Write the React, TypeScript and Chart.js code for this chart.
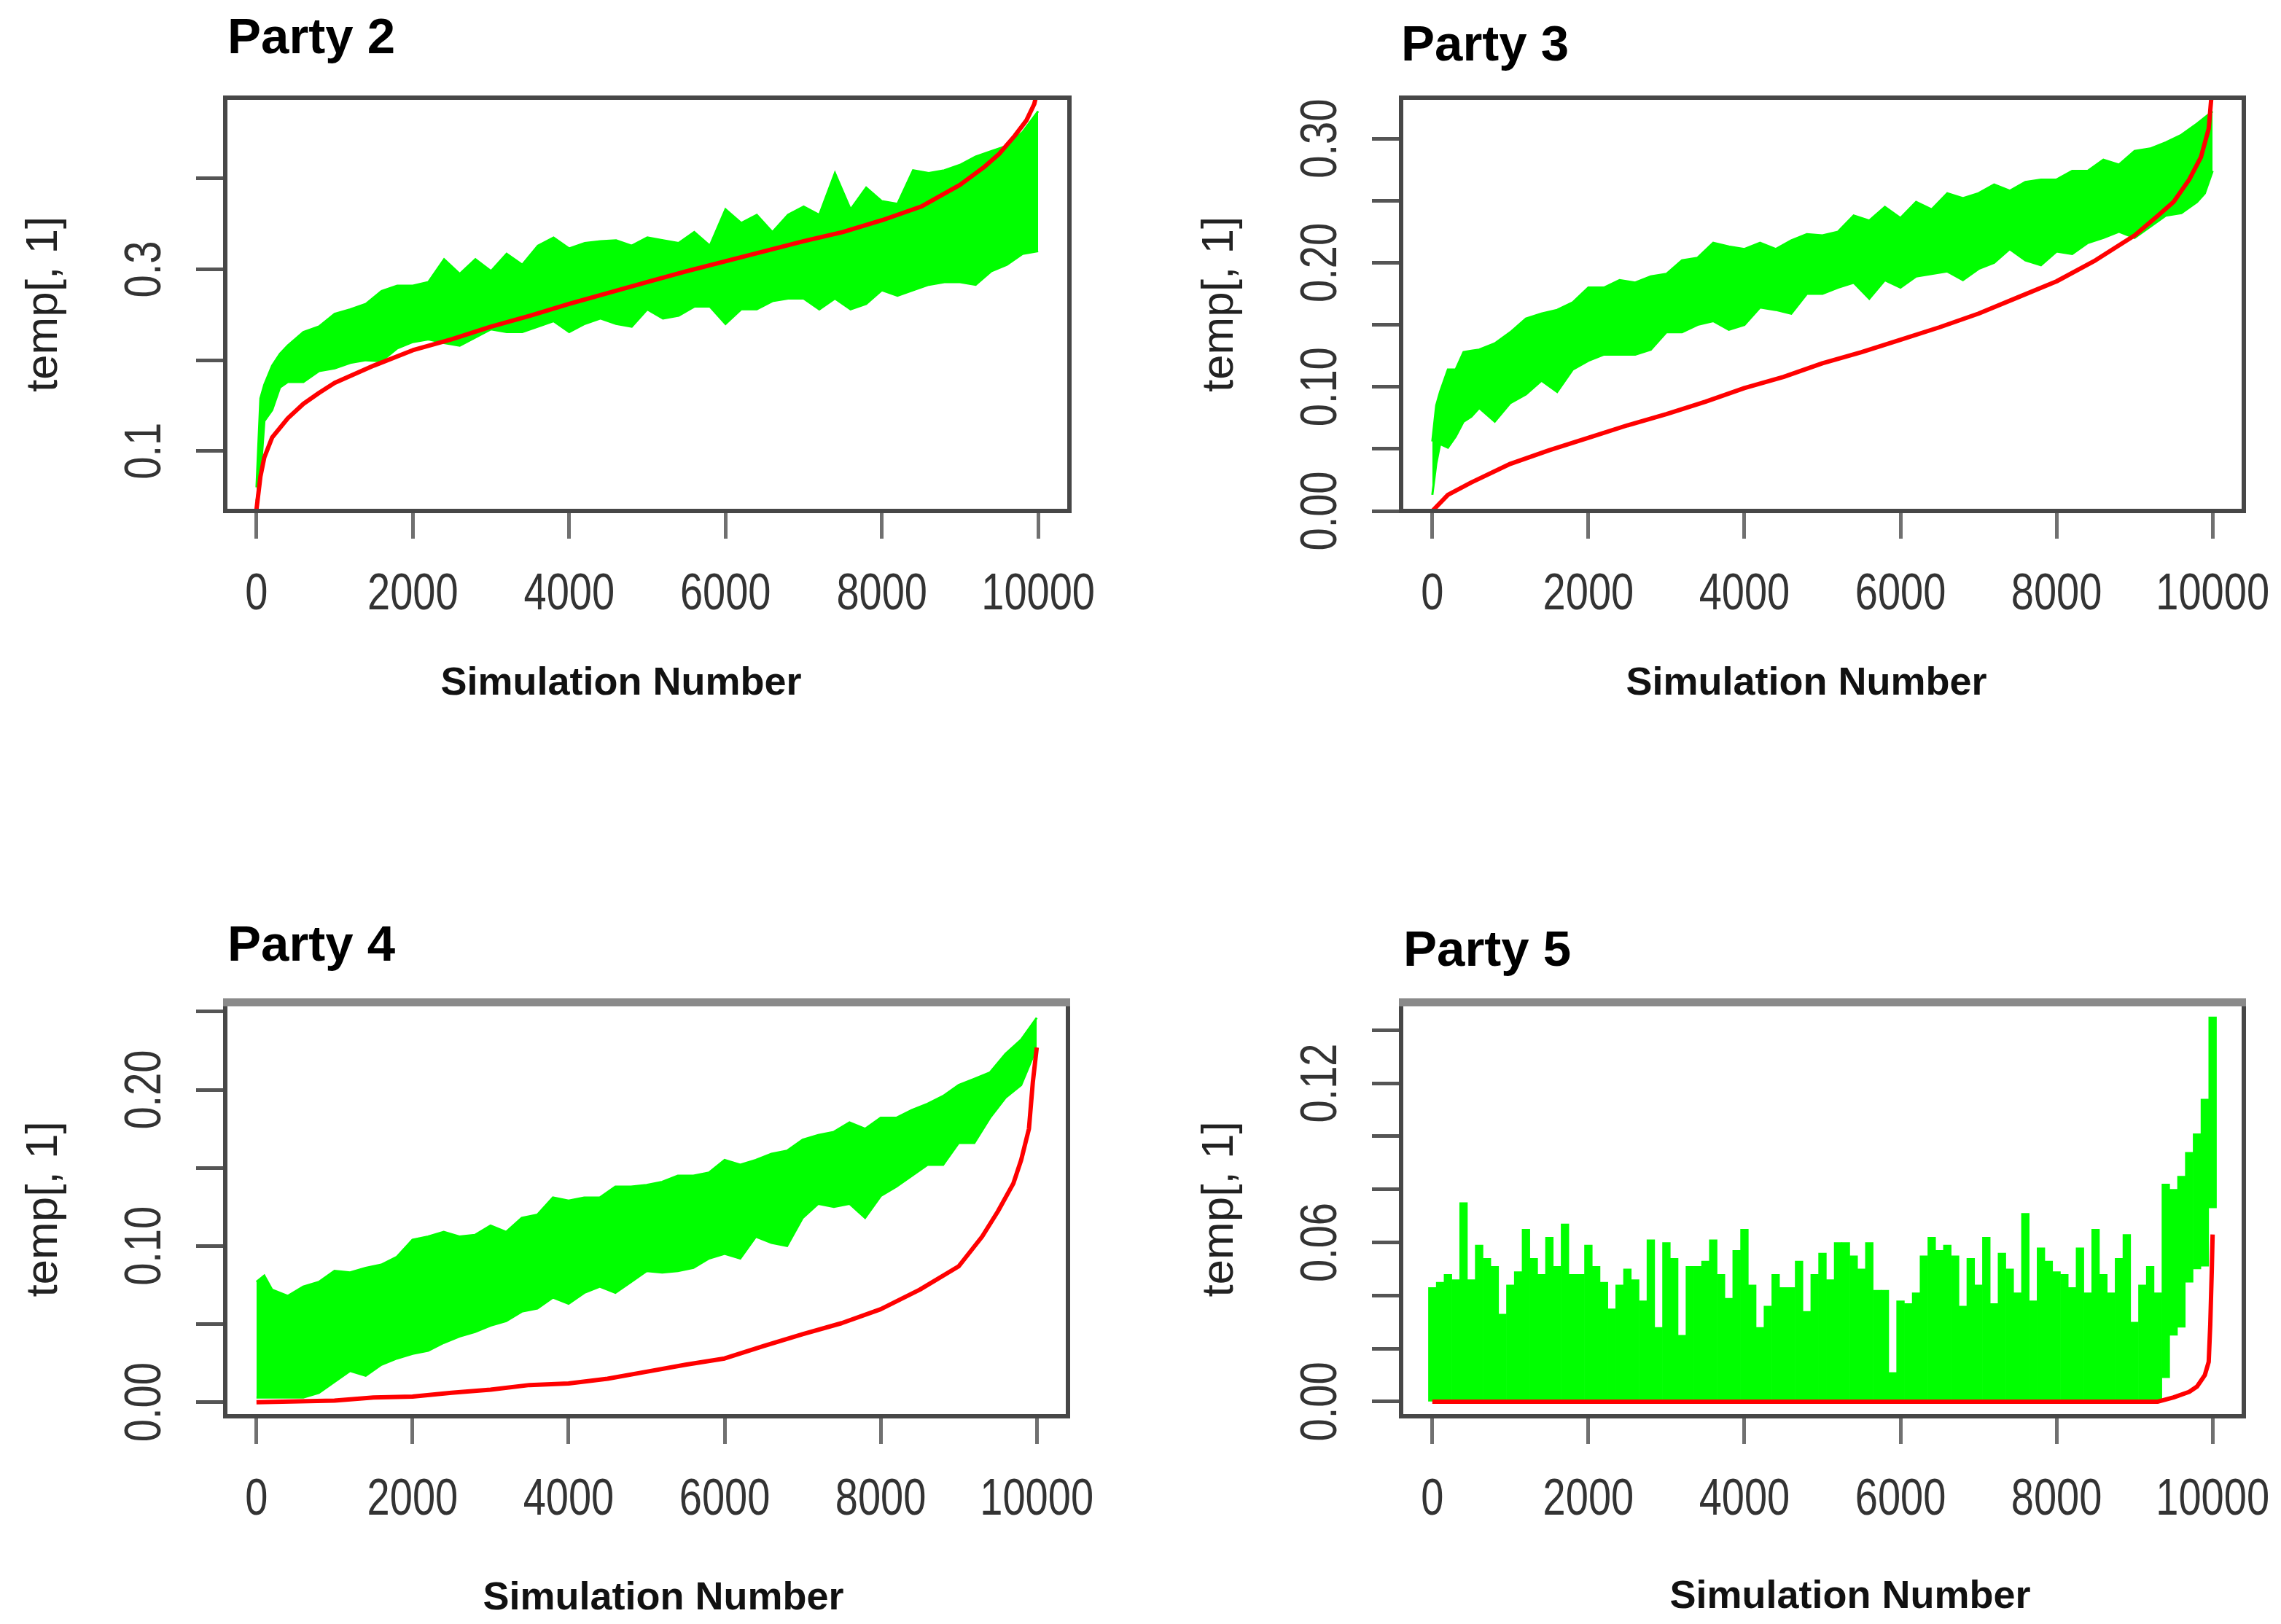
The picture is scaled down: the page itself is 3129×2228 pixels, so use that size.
import React, { useEffect, useRef } from 'react';
import { Chart, registerables } from 'chart.js';

Chart.register(...registerables);

// ---------------- data ----------------
const xTickValues = [0, 2000, 4000, 6000, 8000, 10000];
const xTickLabels = ['0', '2000', '4000', '6000', '8000', '10000'];
const panelTitles = ['Party 2', 'Party 3', 'Party 4', 'Party 5'];
const xAxisTitle = 'Simulation Number';
const yAxisTitle = 'temp[, 1]';

// Party 2
const greenX2 = [0, 50, 100, 200, 300, 400, 600, 800, 1000, 1200, 1400, 1600, 1800, 2000, 2200, 2400, 2600, 2800, 3000, 3200, 3400, 3600, 3800, 4000, 4200, 4400, 4600, 4800, 5000, 5200, 5400, 5600, 5800, 6000, 6200, 6400, 6600, 6800, 7000, 7200, 7400, 7600, 7800, 8000, 8200, 8400, 8600, 8800, 9000, 9200, 9400, 9600, 9800, 10000];
const greenHi2 = [0.06, 0.158, 0.173, 0.194, 0.207, 0.216, 0.231, 0.237, 0.251, 0.256, 0.262, 0.276, 0.282, 0.282, 0.286, 0.311, 0.295, 0.311, 0.298, 0.317, 0.305, 0.326, 0.335, 0.323, 0.329, 0.331, 0.332, 0.326, 0.335, 0.332, 0.329, 0.341, 0.326, 0.366, 0.351, 0.36, 0.341, 0.36, 0.369, 0.36, 0.406, 0.366, 0.39, 0.375, 0.372, 0.409, 0.406, 0.409, 0.415, 0.424, 0.43, 0.436, 0.451, 0.474];
const greenLo2 = [0.045, 0.072, 0.133, 0.145, 0.17, 0.176, 0.176, 0.188, 0.191, 0.197, 0.2, 0.199, 0.213, 0.22, 0.223, 0.219, 0.216, 0.225, 0.234, 0.231, 0.231, 0.237, 0.243, 0.231, 0.24, 0.246, 0.24, 0.237, 0.256, 0.246, 0.249, 0.259, 0.259, 0.24, 0.256, 0.256, 0.265, 0.268, 0.268, 0.256, 0.268, 0.256, 0.262, 0.277, 0.271, 0.277, 0.283, 0.286, 0.286, 0.283, 0.298, 0.305, 0.317, 0.32];
const redX2 = [0, 50, 100, 200, 400, 600, 800, 1000, 1500, 2000, 2500, 3000, 3500, 4000, 4500, 5000, 5500, 6000, 6500, 7000, 7500, 8000, 8500, 9000, 9300, 9500, 9700, 9850, 9950, 10000];
const redY2 = [0.036, 0.072, 0.093, 0.115, 0.136, 0.152, 0.164, 0.175, 0.194, 0.211, 0.223, 0.237, 0.249, 0.262, 0.274, 0.286, 0.298, 0.309, 0.32, 0.331, 0.341, 0.354, 0.369, 0.393, 0.412, 0.427, 0.447, 0.464, 0.482, 0.5];
const yTicks2 = [0.1, 0.2, 0.3, 0.4];
const yTickLabels2 = ['0.1', '', '0.3', ''];

// Party 3
const greenX3 = [0, 50, 100, 200, 300, 400, 500, 600, 800, 1000, 1200, 1400, 1600, 1800, 2000, 2200, 2400, 2600, 2800, 3000, 3200, 3400, 3600, 3800, 4000, 4200, 4400, 4600, 4800, 5000, 5200, 5400, 5600, 5800, 6000, 6200, 6400, 6600, 6800, 7000, 7200, 7400, 7600, 7800, 8000, 8200, 8400, 8600, 8800, 9000, 9200, 9400, 9600, 9800, 9900, 10000];
const greenHi3 = [0.056, 0.085, 0.096, 0.114, 0.114, 0.128, 0.129, 0.13, 0.135, 0.144, 0.155, 0.159, 0.162, 0.168, 0.18, 0.18, 0.186, 0.184, 0.189, 0.191, 0.202, 0.204, 0.216, 0.213, 0.211, 0.216, 0.211, 0.218, 0.223, 0.222, 0.225, 0.238, 0.234, 0.245, 0.236, 0.249, 0.243, 0.256, 0.252, 0.256, 0.263, 0.258, 0.265, 0.267, 0.267, 0.274, 0.274, 0.283, 0.279, 0.29, 0.292, 0.297, 0.303, 0.312, 0.317, 0.322];
const greenLo3 = [0.013, 0.038, 0.054, 0.051, 0.06, 0.072, 0.076, 0.083, 0.072, 0.087, 0.094, 0.105, 0.096, 0.114, 0.121, 0.126, 0.126, 0.126, 0.13, 0.144, 0.144, 0.15, 0.153, 0.146, 0.15, 0.164, 0.162, 0.159, 0.175, 0.175, 0.18, 0.184, 0.171, 0.186, 0.18, 0.189, 0.191, 0.193, 0.186, 0.195, 0.2, 0.211, 0.202, 0.198, 0.209, 0.207, 0.216, 0.22, 0.225, 0.22, 0.229, 0.238, 0.24, 0.249, 0.256, 0.274];
const redX3 = [0, 200, 500, 1000, 1500, 2000, 2500, 3000, 3500, 4000, 4500, 5000, 5500, 6000, 6500, 7000, 7500, 8000, 8500, 9000, 9300, 9500, 9700, 9850, 9950, 10000];
const redY3 = [0, 0.013, 0.023, 0.038, 0.049, 0.059, 0.069, 0.078, 0.088, 0.099, 0.108, 0.119, 0.128, 0.138, 0.148, 0.159, 0.172, 0.185, 0.202, 0.222, 0.238, 0.249, 0.267, 0.285, 0.308, 0.345];
const yTicks3 = [0, 0.05, 0.1, 0.15, 0.2, 0.25, 0.3];
const yTickLabels3 = ['0.00', '', '0.10', '', '0.20', '', '0.30'];

// Party 4
const greenX4 = [0, 100, 200, 400, 600, 800, 1000, 1200, 1400, 1600, 1800, 2000, 2200, 2400, 2600, 2800, 3000, 3200, 3400, 3600, 3800, 4000, 4200, 4400, 4600, 4800, 5000, 5200, 5400, 5600, 5800, 6000, 6200, 6400, 6600, 6800, 7000, 7200, 7400, 7600, 7800, 8000, 8200, 8400, 8600, 8800, 9000, 9200, 9400, 9600, 9800, 10000];
const greenHi4 = [0.077, 0.081, 0.072, 0.068, 0.074, 0.077, 0.084, 0.083, 0.086, 0.088, 0.093, 0.104, 0.106, 0.109, 0.106, 0.107, 0.113, 0.109, 0.118, 0.12, 0.131, 0.129, 0.131, 0.131, 0.138, 0.138, 0.139, 0.141, 0.145, 0.145, 0.147, 0.155, 0.152, 0.155, 0.159, 0.161, 0.168, 0.171, 0.173, 0.179, 0.175, 0.182, 0.182, 0.187, 0.191, 0.196, 0.203, 0.207, 0.211, 0.223, 0.232, 0.246];
const greenLo4 = [0.003, 0.003, 0.003, 0.003, 0.003, 0.006, 0.013, 0.02, 0.017, 0.024, 0.028, 0.031, 0.033, 0.038, 0.042, 0.045, 0.049, 0.052, 0.058, 0.06, 0.067, 0.063, 0.07, 0.074, 0.07, 0.077, 0.084, 0.083, 0.084, 0.086, 0.092, 0.095, 0.092, 0.106, 0.102, 0.1, 0.118, 0.127, 0.125, 0.127, 0.118, 0.132, 0.138, 0.145, 0.152, 0.152, 0.166, 0.166, 0.182, 0.195, 0.203, 0.227];
const redX4 = [0, 1000, 1500, 2000, 2500, 3000, 3500, 4000, 4500, 5000, 5500, 6000, 6500, 7000, 7500, 8000, 8500, 9000, 9300, 9500, 9700, 9800, 9900, 9950, 10000];
const redY4 = [0, 0.001, 0.003, 0.0036, 0.006, 0.008, 0.011, 0.012, 0.015, 0.0195, 0.024, 0.028, 0.036, 0.0435, 0.0506, 0.0595, 0.072, 0.087, 0.106, 0.122, 0.14, 0.155, 0.175, 0.205, 0.227];
const yTicks4 = [0, 0.05, 0.1, 0.15, 0.2, 0.25];
const yTickLabels4 = ['0.00', '', '0.10', '', '0.20', ''];

// Party 5
const greenX5 = [
  0, 100, 200, 300, 400, 500, 600, 700, 800, 900,
  1000, 1100, 1200, 1300, 1400, 1500, 1600, 1700, 1800, 1900,
  2000, 2100, 2200, 2300, 2400, 2500, 2600, 2700, 2800, 2900,
  3000, 3100, 3200, 3300, 3400, 3500, 3600, 3700, 3800, 3900,
  4000, 4100, 4200, 4300, 4400, 4500, 4600, 4700, 4800, 4900,
  5000, 5100, 5200, 5300, 5400, 5500, 5600, 5700, 5800, 5900,
  6000, 6100, 6200, 6300, 6400, 6500, 6600, 6700, 6800, 6900,
  7000, 7100, 7200, 7300, 7400, 7500, 7600, 7700, 7800, 7900,
  8000, 8100, 8200, 8300, 8400, 8500, 8600, 8700, 8800, 8900,
  9000, 9100, 9200, 9300, 9400, 9500, 9600, 9700, 9800, 9900,
  10000,
];
const greenHi5 = [
  0.043, 0.045, 0.048, 0.046, 0.075, 0.046, 0.059, 0.054, 0.051, 0.033,
  0.044, 0.049, 0.065, 0.054, 0.048, 0.062, 0.051, 0.067, 0.048, 0.048,
  0.059, 0.051, 0.045, 0.035, 0.044, 0.05, 0.046, 0.038, 0.061, 0.028,
  0.06, 0.054, 0.025, 0.051, 0.051, 0.053, 0.061, 0.048, 0.039, 0.057,
  0.065, 0.044, 0.028, 0.036, 0.048, 0.043, 0.043, 0.053, 0.034, 0.048,
  0.056, 0.046, 0.06, 0.06, 0.055, 0.05, 0.06, 0.042, 0.042, 0.011,
  0.038, 0.037, 0.041, 0.055, 0.062, 0.057, 0.059, 0.055, 0.036, 0.054,
  0.044, 0.062, 0.037, 0.056, 0.05, 0.041, 0.071, 0.038, 0.058, 0.053,
  0.049, 0.048, 0.043, 0.058, 0.041, 0.065, 0.048, 0.041, 0.054, 0.063,
  0.03, 0.044, 0.051, 0.041, 0.082, 0.08, 0.085, 0.094, 0.101, 0.114,
  0.145,
];
const greenLo5 = [
  0, 0, 0, 0, 0, 0, 0, 0, 0, 0,
  0, 0, 0, 0, 0, 0, 0, 0, 0, 0,
  0, 0, 0, 0, 0, 0, 0, 0, 0, 0,
  0, 0, 0, 0, 0, 0, 0, 0, 0, 0,
  0, 0, 0, 0, 0, 0, 0, 0, 0, 0,
  0, 0, 0, 0, 0, 0, 0, 0, 0, 0,
  0, 0, 0, 0, 0, 0, 0, 0, 0, 0,
  0, 0, 0, 0, 0, 0, 0, 0, 0, 0,
  0, 0, 0, 0, 0, 0, 0, 0, 0, 0,
  0, 0, 0, 0, 0.009, 0.025, 0.028, 0.045, 0.05, 0.051,
  0.073,
];
const redX5 = [0, 9300, 9500, 9700, 9800, 9850, 9900, 9950, 9970, 9990, 10000];
const redY5 = [0, 0, 0.0016, 0.0037, 0.0057, 0.0078, 0.01, 0.015, 0.029, 0.05, 0.063];
const yTicks5 = [0, 0.02, 0.04, 0.06, 0.08, 0.1, 0.12, 0.14];
const yTickLabels5 = ['0.00', '', '', '0.06', '', '', '0.12', ''];

// ---------------- styles / layout ----------------
const GREEN = 'rgb(0,255,0)';
const RED = 'rgb(255,0,0)';
const MAIN_FONT = "'Liberation Sans', Arial, sans-serif";
const TICK_SIZE = 70;
const TICK_SQUEEZE = 0.8; // narrow tick-label face of the original

type PanelCfg = {
  key: string;
  title: string;
  left: number; top: number; w: number; h: number;
  area: { l: number; t: number; r: number; b: number };
  yMin: number; yMax: number;
  yTicks: number[]; yLabels: string[];
  titleX: number; titleBase: number;
  xTitleDx: number; xTitleBase: number;
  topBorder: boolean;
  kind: 'band' | 'bars';
  gx: number[]; gHi: number[]; gLo: number[];
  rx: number[]; ry: number[];
};

const panels: PanelCfg[] = [
  {
    key: 'p2', title: panelTitles[0], left: 0, top: 0, w: 1560, h: 1110,
    area: { l: 309, t: 134, r: 1467, b: 701 }, yMin: 0.034, yMax: 0.489,
    yTicks: yTicks2, yLabels: yTickLabels2, titleX: 312, titleBase: 73,
    xTitleDx: -36, xTitleBase: 953, topBorder: false, kind: 'band',
    gx: greenX2, gHi: greenHi2, gLo: greenLo2, rx: redX2, ry: redY2,
  },
  {
    key: 'p3', title: panelTitles[1], left: 1560, top: 0, w: 1569, h: 1110,
    area: { l: 362, t: 134, r: 1518, b: 701 }, yMin: 0, yMax: 0.333,
    yTicks: yTicks3, yLabels: yTickLabels3, titleX: 362, titleBase: 83,
    xTitleDx: -22, xTitleBase: 953, topBorder: false, kind: 'band',
    gx: greenX3, gHi: greenHi3, gLo: greenLo3, rx: redX3, ry: redY3,
  },
  {
    key: 'p4', title: panelTitles[2], left: 0, top: 1110, w: 1560, h: 1118,
    area: { l: 309, t: 265, r: 1465, b: 833 }, yMin: -0.009, yMax: 0.256,
    yTicks: yTicks4, yLabels: yTickLabels4, titleX: 312, titleBase: 208,
    xTitleDx: 23, xTitleBase: 1098, topBorder: true, kind: 'band',
    gx: greenX4, gHi: greenHi4, gLo: greenLo4, rx: redX4, ry: redY4,
  },
  {
    key: 'p5', title: panelTitles[3], left: 1560, top: 1110, w: 1569, h: 1118,
    area: { l: 362, t: 265, r: 1518, b: 833 }, yMin: -0.0055, yMax: 0.1505,
    yTicks: yTicks5, yLabels: yTickLabels5, titleX: 365, titleBase: 215,
    xTitleDx: 38, xTitleBase: 1096, topBorder: true, kind: 'bars',
    gx: greenX5, gHi: greenHi5, gLo: greenLo5, rx: redX5, ry: redY5,
  },
];

function pts(xs: number[], ys: number[]) {
  return xs.map((x, i) => ({ x, y: ys[i] }));
}

function decorPlugin(p: PanelCfg) {
  return {
    id: 'decor_' + p.key,
    afterDraw(chart: any) {
      const ctx: CanvasRenderingContext2D = chart.ctx;
      const a = chart.chartArea;
      ctx.save();
      // box
      ctx.strokeStyle = '#474747';
      ctx.lineWidth = 6;
      ctx.strokeRect(a.left, a.top, a.right - a.left, a.bottom - a.top);
      if (p.topBorder) {
        ctx.strokeStyle = '#8a8a8a';
        ctx.lineWidth = 11;
        ctx.beginPath();
        ctx.moveTo(a.left - 3, a.top);
        ctx.lineTo(a.right + 3, a.top);
        ctx.stroke();
      }
      // panel title
      ctx.fillStyle = '#000';
      ctx.font = `bold 69px ${MAIN_FONT}`;
      ctx.textAlign = 'left';
      ctx.textBaseline = 'alphabetic';
      ctx.fillText(p.title, p.titleX, p.titleBase);
      // x axis title
      ctx.fillStyle = '#111';
      ctx.font = `bold 54px ${MAIN_FONT}`;
      ctx.textAlign = 'center';
      ctx.fillText(xAxisTitle, (a.left + a.right) / 2 + p.xTitleDx, p.xTitleBase);
      // y axis title
      ctx.save();
      ctx.translate(a.left - 248, (a.top + a.bottom) / 2);
      ctx.rotate(-Math.PI / 2);
      ctx.font = `62px ${MAIN_FONT}`;
      ctx.fillStyle = '#222';
      ctx.textAlign = 'center';
      ctx.textBaseline = 'middle';
      ctx.fillText(yAxisTitle, 0, 0);
      ctx.restore();
      // x tick labels (narrow face)
      const xs = chart.scales.x;
      xTickValues.forEach((v, i) => {
        const px = xs.getPixelForValue(v);
        ctx.save();
        ctx.translate(px, a.bottom + 135);
        ctx.scale(TICK_SQUEEZE, 1);
        ctx.font = `${TICK_SIZE}px ${MAIN_FONT}`;
        ctx.fillStyle = '#333';
        ctx.textAlign = 'center';
        ctx.textBaseline = 'alphabetic';
        ctx.fillText(xTickLabels[i], 0, 0);
        ctx.restore();
      });
      // y tick labels (rotated, R style)
      const ys = chart.scales.y;
      p.yTicks.forEach((v, i) => {
        const lab = p.yLabels[i];
        if (!lab) return;
        const py = ys.getPixelForValue(v);
        ctx.save();
        ctx.translate(a.left - 108, py);
        ctx.rotate(-Math.PI / 2);
        ctx.scale(TICK_SQUEEZE, 1);
        ctx.font = `${TICK_SIZE}px ${MAIN_FONT}`;
        ctx.fillStyle = '#333';
        ctx.textAlign = 'center';
        ctx.textBaseline = 'middle';
        ctx.fillText(lab, 0, 0);
        ctx.restore();
      });
      ctx.restore();
    },
  };
}

function buildConfig(p: PanelCfg): any {
  const redSet: any = {
    type: 'line',
    label: 'red',
    data: pts(p.rx, p.ry),
    borderColor: RED,
    borderWidth: 6,
    pointRadius: 0,
    tension: 0,
    fill: false,
    borderJoinStyle: 'round',
    order: 0,
  };
  let datasets: any[];
  if (p.kind === 'band') {
    datasets = [
      redSet,
      {
        type: 'line', label: 'green hi', data: pts(p.gx, p.gHi), borderColor: GREEN, borderWidth: 3,
        backgroundColor: GREEN, pointRadius: 0, tension: 0, fill: '+1', order: 1,
      },
      {
        type: 'line', label: 'green lo', data: pts(p.gx, p.gLo), borderColor: GREEN, borderWidth: 3,
        pointRadius: 0, tension: 0, fill: false, order: 2,
      },
    ];
  } else {
    datasets = [
      redSet,
      {
        type: 'bar', label: 'green', data: p.gx.map((x, i) => ({ x, y: [p.gLo[i], p.gHi[i]] })),
        backgroundColor: GREEN, borderWidth: 0, barPercentage: 1, categoryPercentage: 1, grouped: false, order: 1,
      },
    ];
  }
  const H = p.h;
  return {
    type: p.kind === 'band' ? 'line' : 'bar',
    data: { datasets },
    options: {
      animation: false,
      responsive: false,
      maintainAspectRatio: false,
      devicePixelRatio: 1,
      events: [],
      layout: { padding: { left: 0, top: p.area.t, right: p.w - p.area.r, bottom: 0 } },
      plugins: { legend: { display: false }, tooltip: { enabled: false }, title: { display: false } },
      scales: {
        x: {
          type: 'linear', min: -400, max: 10400, offset: false,
          afterBuildTicks: (s: any) => { s.ticks = xTickValues.map((v) => ({ value: v })); },
          afterFit: (s: any) => { s.height = H - p.area.b; },
          grid: { display: true, offset: false, drawOnChartArea: false, drawTicks: true, tickLength: 38, tickWidth: 5, tickColor: '#707070' },
          border: { display: false },
          ticks: { display: false },
        },
        y: {
          type: 'linear', min: p.yMin, max: p.yMax,
          afterBuildTicks: (s: any) => { s.ticks = p.yTicks.map((v) => ({ value: v })); },
          afterFit: (s: any) => { s.width = p.area.l; },
          grid: { display: true, drawOnChartArea: false, drawTicks: true, tickLength: 40, tickWidth: 5, tickColor: '#555' },
          border: { display: false },
          ticks: { display: false },
        },
      },
    },
    plugins: [decorPlugin(p)],
  };
}

function Panel({ cfg }: { cfg: PanelCfg }) {
  const ref = useRef<HTMLCanvasElement | null>(null);
  useEffect(() => {
    if (!ref.current) return;
    const chart = new Chart(ref.current, buildConfig(cfg));
    return () => chart.destroy();
  }, [cfg]);
  return (
    <canvas
      ref={ref}
      width={cfg.w}
      height={cfg.h}
      style={{ position: 'absolute', left: cfg.left, top: cfg.top, width: cfg.w, height: cfg.h }}
    />
  );
}

export default function App() {
  return (
    <div style={{ position: 'fixed', left: 0, top: 0, width: 3129, height: 2228, background: '#fff', overflow: 'hidden' }}>
      {panels.map((p) => (
        <Panel key={p.key} cfg={p} />
      ))}
    </div>
  );
}
